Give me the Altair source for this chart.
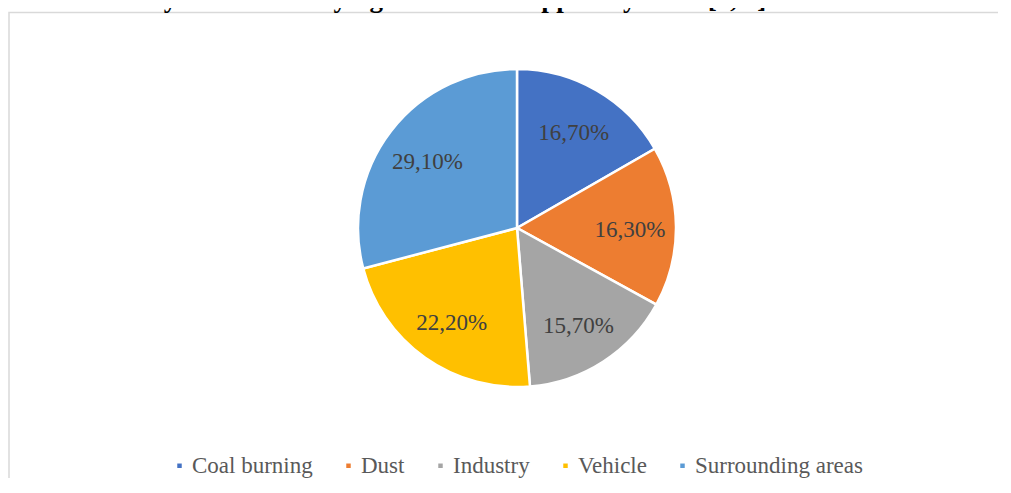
import altair as alt
import pandas as pd

categories = ["Coal burning", "Dust", "Industry", "Vehicle", "Surrounding areas"]
values = [16.7, 16.3, 15.7, 22.2, 29.1]
labels = ["16,70%", "16,30%", "15,70%", "22,20%", "29,10%"]
colors = ["#4472C4", "#ED7D31", "#A5A5A5", "#FFC000", "#5B9BD5"]
header_text = "n – an economy that is destroying its natural support systems [6, 7]."

df = pd.DataFrame({
    "category": categories,
    "value": values,
    "label": labels,
    "idx": list(range(len(categories))),
})

CX, CY = 509, 220

border = alt.Chart(pd.DataFrame({"a": [0]})).mark_rect(
    fill="transparent", stroke="#d9d9d9", strokeWidth=1.5
).encode(
    x=alt.value(1), x2=alt.value(3000), y=alt.value(4.5), y2=alt.value(3000)
)

header = alt.Chart(pd.DataFrame({"t": [header_text]})).mark_text(
    font="Liberation Serif", fontSize=27, fontWeight="bold", color="#000000",
    align="left", baseline="alphabetic"
).encode(
    x=alt.value(-10), y=alt.value(-1), text="t:N"
)

base = alt.Chart(df).encode(
    theta=alt.Theta("value:Q", stack=True),
    order=alt.Order("idx:Q"),
)

pie = base.mark_arc(outerRadius=159, stroke="white", strokeWidth=2.5).encode(
    color=alt.Color(
        "category:N",
        scale=alt.Scale(domain=categories, range=colors),
        sort=categories,
        legend=alt.Legend(
            orient="none", legendX=160, legendY=446, direction="horizontal",
            title=None, symbolType="square", symbolSize=20, symbolStrokeWidth=0,
            labelFont="Liberation Serif", labelFontSize=23, labelColor="#595959",
            labelOffset=1, columnPadding=24, padding=0, labelLimit=400,
        ),
    ),
    x=alt.value(CX), y=alt.value(CY),
)

text = base.mark_text(
    radius=113, font="Liberation Serif", fontSize=23, color="#404040", dy=3
).encode(
    text="label:N", x=alt.value(CX), y=alt.value(CY),
)

chart = alt.layer(border, header, pie, text).properties(
    width=990, height=470,
    autosize=alt.AutoSizeParams(type="none"),
    padding=0,
).configure_view(stroke=None)

chart.save("out.html", embed_options={"renderer": "svg", "actions": False})
